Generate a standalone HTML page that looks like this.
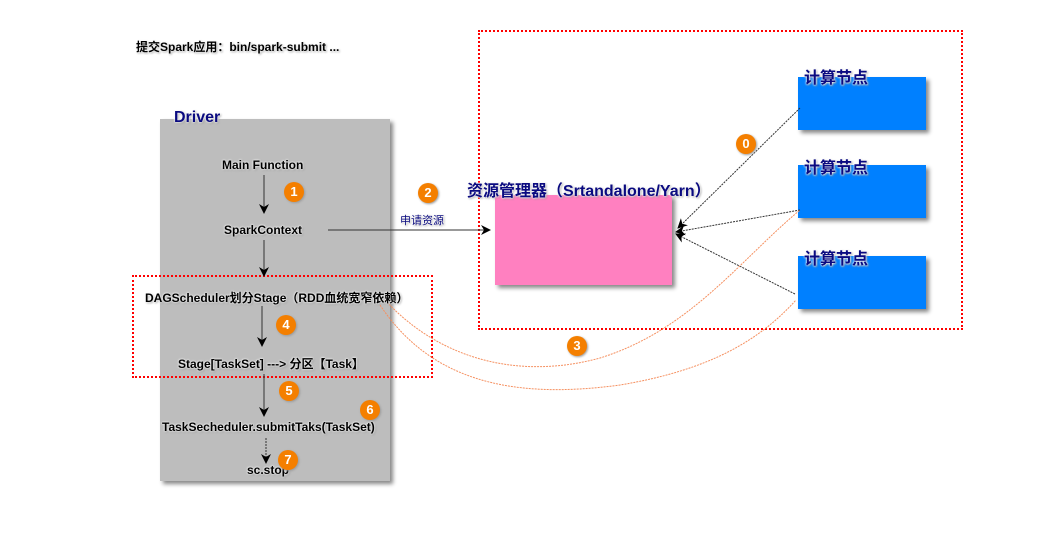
<!DOCTYPE html>
<html><head><meta charset="utf-8"><style>
body{margin:0;width:1040px;height:549px;background:#fff;position:relative;overflow:hidden;font-family:"Liberation Sans","Noto Sans CJK SC",sans-serif;}
.a{position:absolute;white-space:nowrap;}
.t{font-size:12px;font-weight:bold;color:#000;text-shadow:0 0 2px #fff,0 0 2px #fff,1px 1px 2px #888;}
.n{font-size:16px;font-weight:bold;color:#0a0a80;text-shadow:0 0 2px #fff,0 0 2px #fff,1px 1px 2px #888;}
.c{position:absolute;width:20px;height:20px;border-radius:50%;background:#f47f00;color:#fff;font-size:13px;font-weight:bold;text-align:center;line-height:20px;box-shadow:1px 1px 2px #999;}
.blue{position:absolute;background:#0080ff;width:128px;height:53px;box-shadow:3px 3px 4px #888;}
</style></head><body>
<div class="a t" style="left:136px;top:38px;">提交Spark应用：bin/spark-submit ...</div>
<div class="a" style="left:160px;top:119px;width:230px;height:362px;background:#bdbdbd;box-shadow:3px 3px 4px #888;"></div>
<div class="a n" style="left:174px;top:109px;">Driver</div>
<div class="a" style="left:478px;top:30px;width:481px;height:296px;border:2px dotted #f00;"></div>
<div class="a" style="left:132px;top:275px;width:297px;height:99px;border:2px dotted #f00;"></div>
<div class="a" style="left:495px;top:195px;width:177px;height:90px;background:#ff80c0;box-shadow:3px 3px 4px #888;"></div>
<div class="blue" style="left:798px;top:77px;"></div>
<div class="blue" style="left:798px;top:165px;"></div>
<div class="blue" style="left:798px;top:256px;"></div>
<svg class="a" style="left:0;top:0" width="1040" height="549">
<defs><marker id="m" markerWidth="10" markerHeight="10" refX="9" refY="5" orient="auto"><path d="M0,0 L10,5 L0,10 L3,5z" fill="#000"/></marker></defs>
<g stroke="#333" stroke-width="1" fill="none" marker-end="url(#m)">
<line x1="264" y1="175" x2="264" y2="213"/>
<line x1="264" y1="240" x2="264" y2="276"/>
<line x1="262" y1="306" x2="262" y2="346"/>
<line x1="264" y1="374" x2="264" y2="416"/>
<line x1="266" y1="438" x2="266" y2="463" stroke-dasharray="2,1"/>
<line x1="328" y1="230" x2="490" y2="230"/>
<line x1="800" y1="108" x2="678" y2="228" stroke-dasharray="2,1"/>
<line x1="800" y1="210" x2="676" y2="232" stroke-dasharray="2,1"/>
<line x1="795" y1="294" x2="676" y2="234" stroke-dasharray="2,1"/>
</g>
<g stroke="#f59060" stroke-width="1" fill="none" stroke-dasharray="2,1">
<path d="M385,300 C440,360 520,380 600,358 C690,330 740,260 800,210"/>
<path d="M380,305 C430,380 510,400 620,385 C710,370 760,340 796,300"/>
</g>
</svg>
<div class="a t" style="left:222px;top:158px;">Main Function</div>
<div class="a t" style="left:224px;top:223px;">SparkContext</div>
<div class="a t" style="left:145px;top:289px;">DAGScheduler划分Stage（RDD血统宽窄依赖）</div>
<div class="a t" style="left:178px;top:355px;">Stage[TaskSet] ---&gt; 分区【Task】</div>
<div class="a t" style="left:162px;top:420px;">TaskSecheduler.submitTaks(TaskSet)</div>
<div class="a t" style="left:247px;top:463px;">sc.stop</div>
<div class="a n" style="left:467px;top:177px;">资源管理器（Srtandalone/Yarn）</div>
<div class="a t" style="left:400px;top:212px;font-size:11px;font-weight:normal;color:#0a0a80;">申请资源</div>
<div class="a n" style="left:804px;top:64px;">计算节点</div>
<div class="a n" style="left:804px;top:154px;">计算节点</div>
<div class="a n" style="left:804px;top:245px;">计算节点</div>
<div class="c" style="left:284px;top:182px;">1</div>
<div class="c" style="left:418px;top:183px;">2</div>
<div class="c" style="left:567px;top:336px;">3</div>
<div class="c" style="left:276px;top:315px;">4</div>
<div class="c" style="left:279px;top:381px;">5</div>
<div class="c" style="left:360px;top:400px;">6</div>
<div class="c" style="left:278px;top:450px;">7</div>
<div class="c" style="left:736px;top:134px;">0</div>
</body></html>
